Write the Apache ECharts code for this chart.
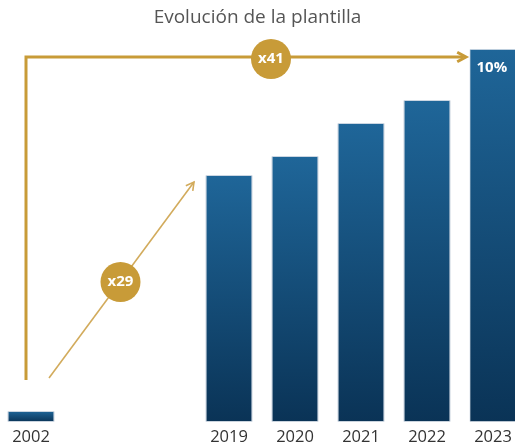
<!DOCTYPE html>
<html>
<head>
<meta charset="utf-8">
<script src="https://cdn.jsdelivr.net/npm/echarts@6/dist/echarts.min.js"></script>
<style>
html,body{margin:0;padding:0;background:#fff;}
#main{width:515px;height:448px;}
</style>
</head>
<body>
<div id="main"></div>
<script>
var years = ['2002', '', '', '2019', '2020', '2021', '2022', '2023'];
var plantilla = [11, null, null, 247, 266, 299, 322, 373];
var barLabels = ['', '', '', '', '', '', '', '10%'];
var multipliers = ['x41', 'x29'];

var gold = '#c89b38';
var chart = echarts.init(document.getElementById('main'));

var seriesData = plantilla.map(function (v, i) {
	var d = { value: v };
	if (barLabels[i]) {
		d.label = {
			show: true, formatter: barLabels[i], position: [7, 11],
			color: '#fff', fontSize: 15, fontWeight: 'bold', fontFamily: 'Open Sans'
		};
	}
	return d;
});

var option = {
	animation: false,
	title: {
		text: 'Evolución de la plantilla',
		left: 'center', top: 3,
		textStyle: { fontFamily: 'Open Sans', fontSize: 19, fontWeight: 'normal', color: '#555' }
	},
	grid: { left: -2, right: -11, top: 49, bottom: 26, outerBoundsMode: 'none', containLabel: false },
	xAxis: {
		type: 'category',
		data: years,
		axisLine: { show: false },
		axisTick: { show: false },
		axisLabel: { color: '#333', fontSize: 16.5, fontFamily: 'Open Sans', margin: 7, interval: 0 }
	},
	yAxis: { type: 'value', min: 0, max: 373, show: false, splitLine: { show: false } },
	series: [{
		type: 'bar',
		barWidth: 47,
		data: seriesData,
		itemStyle: {
			color: new echarts.graphic.LinearGradient(0, 0, 0, 1, [
				{ offset: 0, color: '#1f6699' },
				{ offset: 1, color: '#0a3356' }
			]),
			borderColor: 'rgba(210,218,228,0.7)',
			borderWidth: 1
		}
	}]
};
chart.setOption(option);

// annotation arrows anchored on the bars
var p2002 = chart.convertToPixel({ seriesIndex: 0 }, [0, plantilla[0]]);
var p2019 = chart.convertToPixel({ seriesIndex: 0 }, [3, plantilla[3]]);
var p2023 = chart.convertToPixel({ seriesIndex: 0 }, [7, plantilla[7]]);

var vx = p2002[0] - 5, hy = p2023[1] + 8, hx2 = p2023[0] - 30;
var dStart = [p2002[0] + 18, p2002[1] - 33];
var dEnd = [p2019[0] - 35, p2019[1] + 7];

function badge(cx, cy, txt) {
	return {
		type: 'group', children: [
			{ type: 'circle', shape: { cx: cx, cy: cy, r: 20 }, style: { fill: gold } },
			{ type: 'text', x: cx, y: cy, style: { text: txt, fill: '#fff', fontSize: 15, fontWeight: 'bold', fontFamily: 'Open Sans', align: 'center', verticalAlign: 'middle' } }
		]
	};
}

var ang = Math.atan2(dEnd[1] - dStart[1], dEnd[0] - dStart[0]);
function head(pt, a, len) {
	return [
		[pt[0] - len * Math.cos(a - 0.5), pt[1] - len * Math.sin(a - 0.5)],
		pt,
		[pt[0] - len * Math.cos(a + 0.5), pt[1] - len * Math.sin(a + 0.5)]
	];
}
var t = 0.5;
var mid29 = [dStart[0] + (dEnd[0] - dStart[0]) * t, dStart[1] + (dEnd[1] - dStart[1]) * t];

chart.setOption({
	graphic: [
		{ type: 'polyline', shape: { points: [[vx, p2002[1] - 31], [vx, hy], [hx2, hy]] }, style: { stroke: gold, lineWidth: 3, fill: null } },
		{ type: 'polyline', shape: { points: head([hx2 + 3, hy], 0, 10) }, style: { stroke: gold, lineWidth: 3, fill: null } },
		{ type: 'line', shape: { x1: dStart[0], y1: dStart[1], x2: dEnd[0], y2: dEnd[1] }, style: { stroke: '#d2ab5c', lineWidth: 1.6 } },
		{ type: 'polyline', shape: { points: head(dEnd, ang, 9) }, style: { stroke: '#d2ab5c', lineWidth: 1.6, fill: null } },
		badge(271, hy + 2, multipliers[0]),
		badge(mid29[0] - 1, mid29[1] + 2, multipliers[1])
	]
});
</script>
</body>
</html>
